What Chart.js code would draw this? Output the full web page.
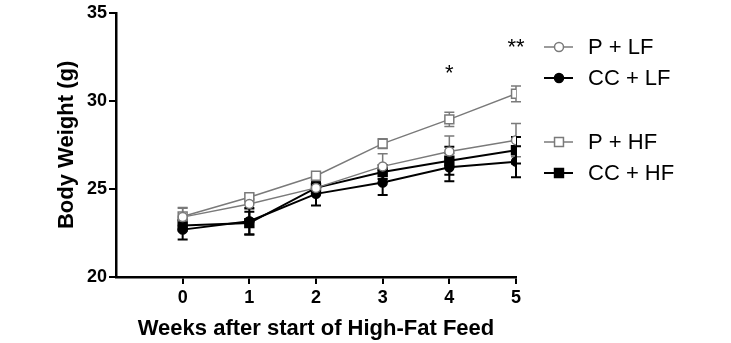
<!DOCTYPE html>
<html>
<head>
<meta charset="utf-8">
<script src="https://cdn.jsdelivr.net/npm/chart.js@4"></script>
<style>
  html, body { margin: 0; padding: 0; background: #fff; }
  #wrap { width: 731px; height: 343px; }
</style>
</head>
<body>
<div id="wrap"><canvas id="chart" width="731" height="343"></canvas></div>
<script>
// weeks after start of high-fat feed
const weeks = [0, 1, 2, 3, 4, 5];

// mean body weight (g) per group
const pLF  = [23.40, 24.15, 25.06, 26.28, 27.13, 27.77];
const ccLF = [22.69, 23.17, 24.72, 25.36, 26.23, 26.55];
const pHF  = [23.44, 24.53, 25.75, 27.57, 28.95, 30.40];
const ccHF = [22.93, 23.06, 25.06, 25.96, 26.60, 27.20];

// SEM per group
const pLFErr  = [0.50, 0.30, 0.25, 0.72, 0.87, 0.94];
const ccLFErr = [0.56, 0.75, 0.66, 0.70, 0.79, 0.88];
const pHFErr  = [0.50, 0.15, 0.15, 0.28, 0.41, 0.45];
const ccHFErr = [0.30, 0.64, 0.30, 0.40, 0.79, 0.75];

const yTicks = [20, 25, 30, 35];

// significance marks above weeks
const sigWeeks = [4, 5];
const sigLabels = ["*", "**"];

const GRAY = "#7a7a7a";
const BLACK = "#000";

function toXY(values) {
  return weeks.map((w, i) => ({ x: w, y: values[i] }));
}

const datasets = [
  { label: "P + LF", data: toXY(pLF), err: pLFErr, borderColor: GRAY, backgroundColor: "#fff",
    pointStyle: "circle", pointRadius: 4.5, borderWidth: 1.5, pointBorderWidth: 1.5 },
  { label: "CC + LF", data: toXY(ccLF), err: ccLFErr, borderColor: BLACK, backgroundColor: BLACK,
    pointStyle: "circle", pointRadius: 4.5, borderWidth: 2, pointBorderWidth: 1.5 },
  { label: "P + HF", data: toXY(pHF), err: pHFErr, borderColor: GRAY, backgroundColor: "#fff",
    pointStyle: "rect", pointRadius: 6.3, borderWidth: 1.5, pointBorderWidth: 1.5 },
  { label: "CC + HF", data: toXY(ccHF), err: ccHFErr, borderColor: BLACK, backgroundColor: BLACK,
    pointStyle: "rect", pointRadius: 6.3, borderWidth: 2, pointBorderWidth: 1.5 },
];

// error bars under the markers, stars and legend on top
const extras = {
  id: "extras",
  beforeDatasetsDraw(chart) {
    const { ctx } = chart;
    const xs = chart.scales.x, ys = chart.scales.y;
    ctx.save();
    chart.data.datasets.forEach(ds => {
      ctx.strokeStyle = ds.borderColor;
      ctx.lineWidth = ds.borderWidth;
      ds.data.forEach((p, i) => {
        const x = xs.getPixelForValue(p.x);
        const top = ys.getPixelForValue(p.y + ds.err[i]);
        const bot = ys.getPixelForValue(p.y - ds.err[i]);
        ctx.beginPath();
        ctx.moveTo(x, top); ctx.lineTo(x, bot);
        ctx.moveTo(x - 5, top); ctx.lineTo(x + 5, top);
        ctx.moveTo(x - 5, bot); ctx.lineTo(x + 5, bot);
        ctx.stroke();
      });
    });
    ctx.restore();
  },
  afterDraw(chart) {
    const { ctx } = chart;
    const xs = chart.scales.x, ys = chart.scales.y;
    ctx.save();
    ctx.fillStyle = "#000";
    ctx.font = "22px 'Liberation Sans', Arial, sans-serif";
    ctx.textAlign = "center";
    ctx.textBaseline = "alphabetic";
    sigWeeks.forEach((w, k) => {
      const i = weeks.indexOf(w);
      let topVal = -Infinity;
      chart.data.datasets.forEach(ds => { topVal = Math.max(topVal, ds.data[i].y + ds.err[i]); });
      const y = ys.getPixelForValue(topVal) - 32;
      ctx.fillText(sigLabels[k], xs.getPixelForValue(w), y);
    });

    // legend on the right, two groups
    const lx = chart.chartArea.right + 28;
    const rowY = [47, 78, 142, 173];
    ctx.textAlign = "left";
    ctx.textBaseline = "middle";
    chart.data.datasets.forEach((ds, i) => {
      const y = rowY[i];
      ctx.strokeStyle = ds.borderColor;
      ctx.lineWidth = ds.borderWidth;
      ctx.beginPath();
      ctx.moveTo(lx, y); ctx.lineTo(lx + 29, y);
      ctx.stroke();
      ctx.fillStyle = ds.backgroundColor;
      ctx.lineWidth = ds.pointBorderWidth;
      ctx.beginPath();
      if (ds.pointStyle === "circle") {
        ctx.arc(lx + 15, y, ds.pointRadius, 0, Math.PI * 2);
      } else {
        const s = ds.pointRadius * Math.SQRT1_2;
        ctx.rect(lx + 15 - s, y - s, 2 * s, 2 * s);
      }
      ctx.fill(); ctx.stroke();
      ctx.fillStyle = "#000";
      ctx.fillText(ds.label, lx + 44, y + 1);
    });
    ctx.restore();
  }
};

const tickFont = { family: "'Liberation Sans', Arial, sans-serif", size: 18, weight: "bold" };
const titleFont = { family: "'Liberation Sans', Arial, sans-serif", size: 22, weight: "bold" };

new Chart(document.getElementById("chart"), {
  type: "line",
  data: { datasets },
  options: {
    responsive: false,
    animation: false,
    layout: { padding: { left: 54, top: 11, right: 215, bottom: 0 } },
    plugins: { legend: { display: false }, tooltip: { enabled: false } },
    elements: { line: { tension: 0 } },
    scales: {
      x: {
        type: "linear",
        min: -1, max: 5,
        afterBuildTicks(scale) { scale.ticks = weeks.map(v => ({ value: v })); },
        afterFit(scale) { scale.height = 66; },
        border: { display: true, color: "#000", width: 2.5 },
        grid: { drawOnChartArea: false, drawTicks: true, tickLength: 7, color: "#000", lineWidth: 2 },
        ticks: { color: "#000", font: tickFont, padding: 3, maxRotation: 0 },
        title: { display: true, text: "Weeks after start of High-Fat Feed", color: "#000",
                 font: titleFont, padding: { top: 0, bottom: 1 } }
      },
      y: {
        min: 20, max: 35,
        afterBuildTicks(scale) { scale.ticks = yTicks.map(v => ({ value: v })); },
        afterFit(scale) { scale.width = 62; },
        border: { display: true, color: "#000", width: 2.5 },
        grid: { drawOnChartArea: false, drawTicks: true, tickLength: 7, color: "#000", lineWidth: 2 },
        ticks: { color: "#000", font: tickFont, padding: 2 },
        title: { display: true, text: "Body Weight (g)", color: "#000",
                 font: titleFont, padding: { top: 0, bottom: 0 } }
      }
    }
  },
  plugins: [extras]
});
</script>
</body>
</html>
